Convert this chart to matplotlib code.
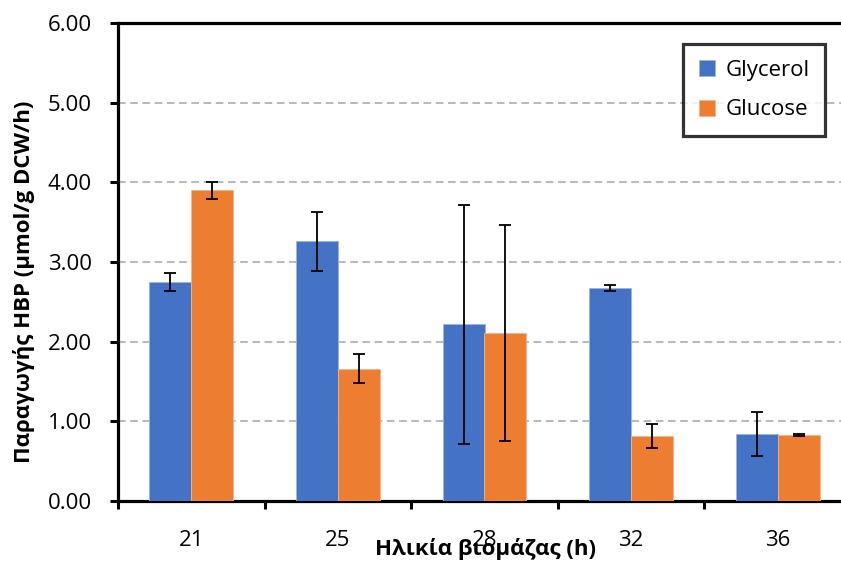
import numpy as np
import matplotlib
matplotlib.use("Agg")
import matplotlib.pyplot as plt
from matplotlib.ticker import FixedLocator

plt.rcParams['font.family'] = ['Open Sans', 'Noto Sans', 'DejaVu Sans']

# data
ages = ['21', '25', '28', '32', '36']
glycerol = [2.75, 3.26, 2.22, 2.67, 0.84]
glycerol_err = [0.11, 0.37, 1.50, 0.04, 0.28]
glucose = [3.90, 1.66, 2.11, 0.82, 0.83]
glucose_err = [0.11, 0.18, 1.36, 0.15, 0.01]

blue = '#4472C4'
orange = '#ED7D31'

fig = plt.figure(figsize=(8.41, 5.63), dpi=100)
ax = fig.add_axes([118 / 841, 62 / 563, 733 / 841, 478 / 563])

x = np.arange(len(ages))
w = 0.286
err_kw = dict(ecolor='black', elinewidth=1.3, capsize=4.5, capthick=1.3)
ax.bar(x - w / 2, glycerol, w, yerr=glycerol_err, color=blue,
       edgecolor='#9db3e0', linewidth=0.6, label='Glycerol', error_kw=err_kw, zorder=3)
ax.bar(x + w / 2, glucose, w, yerr=glucose_err, color=orange,
       edgecolor='#f5b48a', linewidth=0.6, label='Glucose', error_kw=err_kw, zorder=3)

ax.set_xlim(-0.5, 4.5)
ax.set_ylim(0, 6)
ax.set_yticks(np.arange(0, 6.01, 1.0))
ax.set_yticklabels([f'{v:.2f}' for v in np.arange(0, 6.01, 1.0)])
ax.set_xticks(x)
ax.set_xticklabels(ages)
ax.xaxis.set_minor_locator(FixedLocator(np.arange(-0.5, 4.51, 1.0)))

ax.grid(axis='y', color='#a6a6a6', linestyle=(0, (5, 3)), linewidth=1.1, zorder=0)
ax.set_axisbelow(True)

for s in ['left', 'bottom', 'top']:
    ax.spines[s].set_linewidth(2.3)
    ax.spines[s].set_color('black')
ax.spines['right'].set_visible(False)

ax.tick_params(axis='y', direction='out', length=6, width=2.2, pad=13, labelsize=16)
ax.tick_params(axis='x', which='major', length=0, pad=21, labelsize=16)
ax.tick_params(axis='x', which='minor', direction='out', length=6, width=2.2)

ax.set_ylabel('Παραγωγής HBP (μmol/g DCW/h)', fontsize=16, fontweight='bold')
ax.yaxis.label.set_va('center')
ax.yaxis.set_label_coords(-0.128, 0.458)
ax.set_xlabel('Ηλικία βιομάζας (h)', fontsize=16, fontweight='bold')
ax.xaxis.label.set_va('center')
ax.xaxis.set_label_coords(0.5007, -0.1)

leg = ax.legend(loc='upper right', bbox_to_anchor=(825 / 841, 519 / 563),
                bbox_transform=fig.transFigure, borderaxespad=0, fontsize=16,
                frameon=True, fancybox=False, edgecolor='black',
                handlelength=0.75, handleheight=0.75, handletextpad=0.45,
                labelspacing=0.85, borderpad=0.7)
leg.get_frame().set_linewidth(2.3)

fig.savefig('out.png', dpi=100)
